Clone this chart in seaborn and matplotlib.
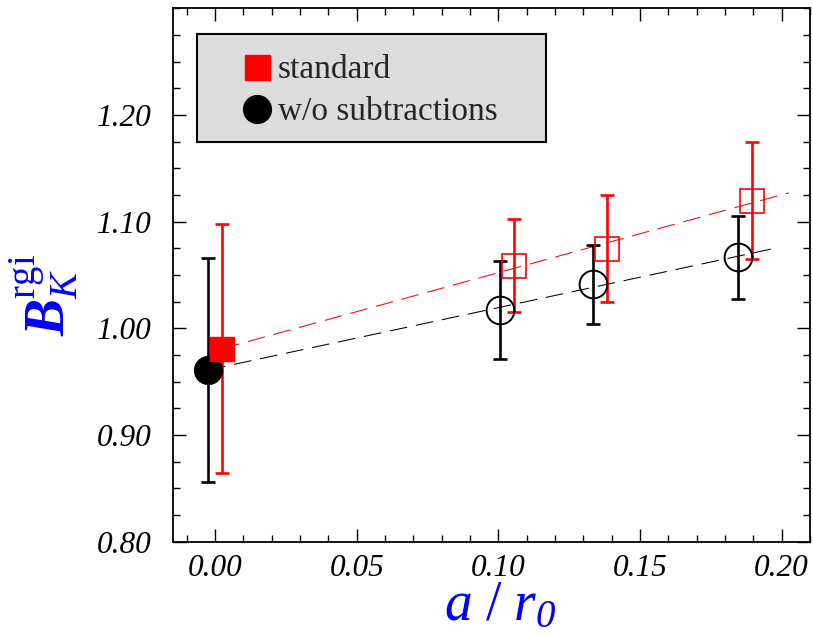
import numpy as np
import seaborn as sns
import matplotlib.pyplot as plt
from matplotlib.patches import Rectangle
from matplotlib.ticker import MultipleLocator, FormatStrFormatter

# data
a_r0 = [0.0, 0.1031, 0.1359, 0.1871]
shift = 0.0025

std_val = [0.981, 1.0587, 1.0746, 1.1196]
std_err = [0.117, 0.0435, 0.050, 0.055]
nosub_val = [0.961, 1.017, 1.0412, 1.0665]
nosub_err = [0.105, 0.046, 0.037, 0.039]

# linear fits (end points)
fit_x = [0.0, 0.20]
std_fit = [0.981, 1.127]
nosub_fit = [0.961, 1.075]

RED = '#ff0000'
BLUE = '#0000ff'

sns.set_theme(style='ticks')
plt.rcParams['font.family'] = ['Liberation Serif', 'DejaVu Serif']
plt.rcParams['font.style'] = 'italic'
plt.rcParams['mathtext.fontset'] = 'custom'
plt.rcParams['mathtext.rm'] = 'Liberation Serif:roman'
plt.rcParams['mathtext.it'] = 'Liberation Serif:italic'
plt.rcParams['mathtext.sf'] = 'Liberation Serif:italic'
plt.rcParams['mathtext.bf'] = 'Liberation Serif:italic:bold'

fig = plt.figure(figsize=(8.13, 6.34), dpi=100)
ax = fig.add_axes([0.2124, 0.1456, 0.7839, 0.8413])

xs_std = np.array(a_r0) + shift
xs_nosub = np.array(a_r0) - shift

# fit lines
dash = (0, (17, 8.5))
sns.lineplot(x=np.array(fit_x) + shift, y=std_fit, color=RED, lw=0.75,
             linestyle=dash, ax=ax, zorder=1)
sns.lineplot(x=np.array(fit_x) - shift, y=nosub_fit, color='black', lw=0.75,
             linestyle=dash, ax=ax, zorder=1)

# error bars
ax.errorbar(xs_nosub, nosub_val, yerr=nosub_err, fmt='none', ecolor='black',
            elinewidth=1.9, capsize=4.9, capthick=1.9, zorder=2)
ax.errorbar(xs_std, std_val, yerr=std_err, fmt='none', ecolor=RED,
            elinewidth=1.9, capsize=4.9, capthick=1.9, zorder=2)

# markers: first point filled (extrapolated), others open
ax.plot(xs_nosub[:1], nosub_val[:1], 'o', ms=20, color='black', zorder=3)
ax.plot(xs_nosub[1:], nosub_val[1:], 'o', ms=20, mfc='none', mec='black',
        mew=1.4, zorder=3)
ax.plot(xs_std[:1], std_val[:1], 's', ms=17.3, color=RED, mec=RED, zorder=3)
ax.plot(xs_std[1:], std_val[1:], 's', ms=17.3, mfc='none', mec=RED,
        mew=1.2, zorder=3)

ax.set_xlim(-0.015, 0.21)
ax.set_ylim(0.80, 1.30)
ax.set_xticks([0.0, 0.05, 0.10, 0.15, 0.20])
ax.set_yticks([0.80, 0.90, 1.00, 1.10, 1.20])
ax.xaxis.set_minor_locator(MultipleLocator(0.01))
ax.yaxis.set_minor_locator(MultipleLocator(0.025))
ax.xaxis.set_major_formatter(FormatStrFormatter('%.2f'))
ax.yaxis.set_major_formatter(FormatStrFormatter('%.2f'))
ax.tick_params(which='both', direction='in', top=True, right=True,
               colors='black', width=1.0, labelsize=22.5)
ax.tick_params(which='major', length=9.5)
ax.tick_params(which='minor', length=5)
ax.tick_params(axis='x', pad=9)
ax.tick_params(axis='y', pad=15)
for s in ax.spines.values():
    s.set_linewidth(1.3)
    s.set_color('black')

ax.set_xlabel(r'$\mathit{a\ /\ r}_{\mathsf{0}}$', fontsize=40, color=BLUE,
              labelpad=-2)
ax.xaxis.label.set_x(0.514)
ax.set_ylabel(r'$\mathbf{B}_{\mathit{K}}^{\mathrm{rgi}}$', fontsize=40,
              color=BLUE, labelpad=12)
ax.yaxis.label.set_y(0.4625)

# legend box
ax.add_patch(Rectangle((0.0377, 0.7499), 0.5476, 0.2014, transform=ax.transAxes,
                       facecolor='#dcdcdc', edgecolor='black', lw=1.5,
                       zorder=4))
h1, = ax.plot([], [], 's', ms=18, color=RED, label='standard')
h2, = ax.plot([], [], 'o', ms=20, color='black', label='w/o subtractions')
leg = ax.legend(handles=[h1, h2], loc='upper left',
                bbox_to_anchor=(0.1061, 0.913), frameon=False,
                prop={'family': 'Liberation Serif', 'style': 'normal',
                      'size': 24},
                handlelength=1.0, handletextpad=0.13, borderpad=0,
                borderaxespad=0, labelspacing=0.35)
leg.set_zorder(5)

fig.savefig('out.png', dpi=100)
